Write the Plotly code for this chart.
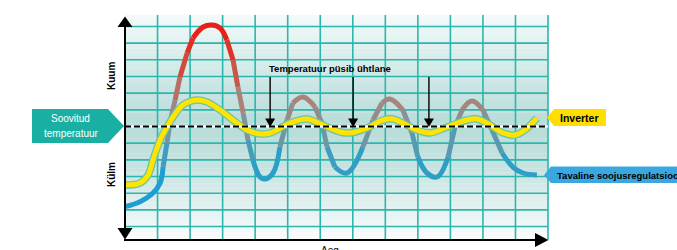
import bisect
import plotly.graph_objects as go

# ---------------- data (time in grid columns, temperature in grid rows; 0 = set temperature)
time_conventional = [0.00, 0.46, 0.86, 1.08, 1.17, 1.29, 1.38, 1.54, 1.69, 1.91, 2.09, 2.40, 2.67, 2.92,
                     3.13, 3.32, 3.47, 3.63, 3.78, 3.93, 4.15, 4.30, 4.55, 4.76, 4.98, 5.16, 5.47, 5.84,
                     6.05, 6.21, 6.45, 6.82, 7.31, 7.62, 7.90, 8.14, 8.54, 8.82, 9.00, 9.28, 9.59, 9.93,
                     10.14, 10.36, 10.66, 11.00, 11.28, 11.59, 11.92, 12.23, 12.66]
temp_conventional = [-4.81, -4.51, -3.99, -3.39, -2.43, -0.99, 0.21, 1.59, 2.97, 4.41, 5.31, 5.97, 6.09, 5.91,
                     5.19, 3.99, 2.37, 0.81, -0.81, -2.01, -3.03, -3.15, -2.79, -1.23, 0.39, 1.41, 1.77, 1.17,
                     0.21, -1.23, -2.43, -2.79, -1.23, 0.39, 1.41, 1.65, 0.99, -0.39, -1.83, -2.79, -3.03, -1.83,
                     -0.03, 0.99, 1.53, 0.99, -0.21, -1.59, -2.43, -2.79, -2.91]

time_inverter = [0.00, 0.46, 0.71, 0.86, 1.08, 1.29, 1.48, 1.78, 2.21, 2.52, 2.92, 3.32, 3.75, 4.15,
                 4.46, 5.07, 5.59, 6.08, 6.61, 6.91, 7.44, 7.93, 8.24, 8.54, 8.97, 9.37, 9.90, 10.51,
                 10.82, 11.22, 11.62, 11.99, 12.29, 12.66]
temp_inverter = [-3.51, -3.39, -2.91, -2.01, -0.81, -0.03, 0.57, 1.29, 1.59, 1.47, 0.99, 0.39, -0.21, -0.45,
                 -0.39, 0.21, 0.45, 0.09, -0.33, -0.39, -0.09, 0.39, 0.45, 0.21, -0.21, -0.39, -0.03, 0.39,
                 0.45, 0.09, -0.39, -0.51, -0.21, 0.51]

set_temperature = 0
steady_markers = [4.46, 7.01, 9.34]          # times where the arrows point
grid_columns = list(range(1, 14))
grid_rows = [r for r in range(-6, 7) if r != 0]

label_hot = "Kuum"
label_cold = "Külm"
label_time = "Aeg"
label_set = ["Soovitud", "temperatuur"]
label_inverter = "Inverter"
label_conventional = "Tavaline soojusregulatsioon"
label_steady = "Temperatuur püsib ühtlane"

# ---------------- layout helpers (pixel -> axis units)
PX0, PXU = 125.0, 32.54
PY0, PYU = 126.5, 16.67
W, H = 677, 250


def U(px):
    return (px - PX0) / PXU


def V(py):
    return (PY0 - py) / PYU


def path(pts):
    s = "M " + " L ".join(f"{U(a):.4f},{V(b):.4f}" for a, b in pts) + " Z"
    return s


def lerp_color(stops, t):
    if t <= stops[0][0]:
        return stops[0][1]
    for (t0, c0), (t1, c1) in zip(stops, stops[1:]):
        if t <= t1:
            f = (t - t0) / (t1 - t0)
            return tuple(round(a + (b - a) * f) for a, b in zip(c0, c1))
    return stops[-1][1]


def rgb(c):
    return f"rgb({c[0]},{c[1]},{c[2]})"


FONT = "Liberation Sans, Arial, sans-serif"
GRID = "#2bb7ad"
XMIN, XMAX = 0, 13
YMIN, YMAX = V(239.5), V(15)

fig = go.Figure()
shapes = []

# background gradient bands
bg_stops = [(15, (244, 250, 250)), (60, (214, 236, 234)), (126, (184, 220, 217)),
            (170, (200, 228, 226)), (210, (228, 242, 241)), (240, (251, 253, 253))]
n_bands = 60
for i in range(n_bands):
    p0 = 15 + (240 - 15) * i / n_bands
    p1 = 15 + (240 - 15) * (i + 1) / n_bands
    c = lerp_color(bg_stops, (p0 + p1) / 2)
    shapes.append(dict(type="rect", xref="x", yref="y", x0=XMIN, x1=XMAX, y0=V(p1), y1=V(p0) + 0.01,
                       fillcolor=rgb(c), line=dict(width=0), layer="below"))

# grid
for r in grid_rows:
    shapes.append(dict(type="line", xref="x", yref="y", x0=XMIN, x1=XMAX, y0=r, y1=r,
                       line=dict(color=GRID, width=1.6), layer="below"))
for c in grid_columns:
    shapes.append(dict(type="line", xref="x", yref="y", x0=c, x1=c, y0=YMIN, y1=YMAX,
                       line=dict(color=GRID, width=1.6), layer="below"))

# conventional curve, coloured by temperature
conv_stops = [(-5.0, (26, 158, 220)), (-3.0, (34, 160, 204)), (-1.5, (70, 156, 186)),
              (0.0, (128, 148, 156)), (1.5, (168, 132, 124)), (3.0, (196, 92, 78)),
              (4.5, (222, 52, 40)), (6.0, (232, 30, 24))]
bin_edges = [-2.0, -1.2, -0.4, 0.4, 1.2, 2.0, 2.8, 3.6, 4.4, 5.2]
segs = []
for i in range(len(time_conventional) - 1):
    m = (temp_conventional[i] + temp_conventional[i + 1]) / 2
    segs.append((i, bisect.bisect(bin_edges, m), m))
runs = []
for i, b, m in segs:
    if runs and runs[-1]["bin"] == b:
        runs[-1]["end"] = i + 1
        runs[-1]["ms"].append(m)
    else:
        runs.append({"bin": b, "start": i, "end": i + 1, "ms": [m]})
for run in runs:
    xs = time_conventional[run["start"]:run["end"] + 1]
    ys = temp_conventional[run["start"]:run["end"] + 1]
    mv = sum(run["ms"]) / len(run["ms"])
    fig.add_trace(go.Scatter(x=xs, y=ys, mode="lines", hoverinfo="skip", showlegend=False,
                             line=dict(color=rgb(lerp_color(conv_stops, mv)), width=5,
                                       shape="spline", smoothing=1.1)))

# inverter curve (yellow with thin green edge)
fig.add_trace(go.Scatter(x=time_inverter, y=temp_inverter, mode="lines", hoverinfo="skip",
                         showlegend=False, line=dict(color="#6cc3a4", width=7.5, shape="spline", smoothing=1)))
fig.add_trace(go.Scatter(x=time_inverter, y=temp_inverter, mode="lines", hoverinfo="skip",
                         showlegend=False, line=dict(color="#ffe400", width=5, shape="spline", smoothing=1)))

# set-temperature dashed line
shapes.append(dict(type="line", xref="x", yref="y", x0=XMIN, x1=XMAX, y0=set_temperature, y1=set_temperature,
                   line=dict(color="white", width=1.8), layer="above"))
shapes.append(dict(type="line", xref="x", yref="y", x0=XMIN, x1=XMAX, y0=set_temperature, y1=set_temperature,
                   line=dict(color="black", width=1.8, dash="6px,3px"), layer="above"))

# steady arrows
for t in steady_markers:
    px = PX0 + t * PXU
    shapes.append(dict(type="line", xref="x", yref="y", x0=t, x1=t, y0=V(77), y1=V(119),
                       line=dict(color="black", width=1.4), layer="above"))
    shapes.append(dict(type="path", xref="x", yref="y",
                       path=path([(px - 5, 118.5), (px + 5, 118.5), (px, 127)]),
                       fillcolor="black", line=dict(width=0), layer="above"))

# axes with arrows
shapes.append(dict(type="line", xref="x", yref="y", x0=0, x1=0, y0=V(229), y1=V(25),
                   line=dict(color="black", width=2), layer="above"))
shapes.append(dict(type="path", xref="x", yref="y", path=path([(117.5, 27), (132.5, 27), (125, 16.5)]),
                   fillcolor="black", line=dict(width=0), layer="above"))
shapes.append(dict(type="path", xref="x", yref="y", path=path([(117.5, 228), (132.5, 228), (125, 239.5)]),
                   fillcolor="black", line=dict(width=0), layer="above"))
shapes.append(dict(type="line", xref="x", yref="y", x0=U(124), x1=U(537), y0=V(240), y1=V(240),
                   line=dict(color="black", width=2), layer="above"))
shapes.append(dict(type="path", xref="x", yref="y", path=path([(535, 233), (548.5, 240), (535, 247)]),
                   fillcolor="black", line=dict(width=0), layer="above"))

# callouts
shapes.append(dict(type="path", xref="x", yref="y",
                   path=path([(32, 109), (108, 109), (124, 126), (108, 143), (32, 143)]),
                   fillcolor="#19b0a3", line=dict(width=0), layer="above"))
shapes.append(dict(type="path", xref="x", yref="y",
                   path=path([(547, 117.5), (554, 109), (606, 109), (606, 126), (554, 126)]),
                   fillcolor="#ffde00", line=dict(width=0), layer="above"))
shapes.append(dict(type="path", xref="x", yref="y",
                   path=path([(544, 175), (551, 166.5), (700, 166.5), (700, 183), (551, 183)]),
                   fillcolor="#3aa7e0", line=dict(width=0), layer="above"))

ann = []


def text(px, py, s, size=10, color="black", bold=False, angle=0, xanchor="center", yanchor="middle"):
    ann.append(dict(x=U(px), y=V(py), xref="x", yref="y", text=f"<b>{s}</b>" if bold else s,
                    showarrow=False, textangle=angle, xanchor=xanchor, yanchor=yanchor,
                    font=dict(family=FONT, size=size, color=color)))


text(70, 118.5, label_set[0], size=10, color="white")
text(71, 133, label_set[1], size=10, color="white")
text(579, 117.5, label_inverter, size=10.5, bold=True)
text(555, 175, label_conventional, size=9.5, bold=True, xanchor="left")
text(111, 76, label_hot, size=10, bold=True, angle=-90)
text(111, 175, label_cold, size=10, bold=True, angle=-90)
text(330, 68, label_steady, size=9.5, bold=True)
text(330, 243, label_time, size=10, yanchor="top")

fig.update_layout(
    width=W, height=H, margin=dict(l=0, r=0, t=0, b=0),
    paper_bgcolor="white", plot_bgcolor="white",
    xaxis=dict(range=[U(0), U(W)], visible=False, fixedrange=True),
    yaxis=dict(range=[V(H), V(0)], visible=False, fixedrange=True),
    shapes=shapes, annotations=ann, showlegend=False,
)

fig.write_html("out.html", config={"displayModeBar": False},
               post_script="document.body.style.margin='0';document.body.style.overflow='hidden';")
